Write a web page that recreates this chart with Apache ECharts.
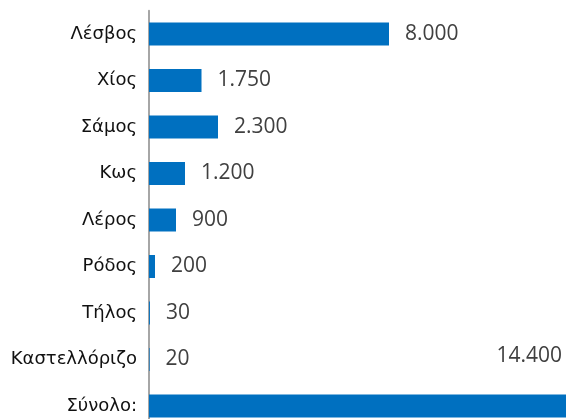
<!DOCTYPE html>
<html>
<head>
<meta charset="utf-8">
<script src="https://cdn.jsdelivr.net/npm/echarts@6/dist/echarts.min.js"></script>
<style>
    html, body { margin: 0; padding: 0; background: #fff; }
    #chart { width: 566px; height: 419px; }
</style>
</head>
<body>
<div id="chart"></div>
<script>
    // islands and their counts, top to bottom
    const islands = ['Λέσβος', 'Χίος', 'Σάμος', 'Κως', 'Λέρος', 'Ρόδος', 'Τήλος', 'Καστελλόριζο', 'Σύνολο:'];
    const counts = [8000, 1750, 2300, 1200, 900, 200, 30, 20, 14400];

    const fmt = v => String(v).replace(/\B(?=(\d{3})+(?!\d))/g, '.');

    const data = counts.map((v, i) => {
        const item = {value: v};
        if (i === counts.length - 1) {
            // total: label sits above the (cut off) bar, at the right edge
            item.label = {position: [413, -38], align: 'right', verticalAlign: 'middle', distance: 0};
        }
        return item;
    });

    const chart = echarts.init(document.getElementById('chart'));
    chart.setOption({
        animation: false,
        grid: {
            left: 149, width: 417, top: 10.75, height: 418.5,
            containLabel: false,
            outerBoundsMode: 'none'
        },
        xAxis: {
            type: 'value',
            min: 0,
            max: 13900,
            show: false
        },
        yAxis: {
            type: 'category',
            inverse: true,
            data: islands,
            axisTick: {show: false},
            axisLine: {lineStyle: {color: '#a6a6a6', width: 2}},
            axisLabel: {
                margin: 12,
                color: '#111',
                fontSize: 18,
                fontFamily: 'DejaVu Sans, sans-serif'
            }
        },
        series: [{
            type: 'bar',
            data: data,
            barWidth: 23,
            itemStyle: {color: '#0070C0'},
            label: {
                show: true,
                position: 'right',
                distance: 16,
                color: '#404040',
                fontSize: 21,
                fontFamily: 'Open Sans, sans-serif',
                formatter: p => fmt(p.value)
            }
        }]
    });
</script>
</body>
</html>
